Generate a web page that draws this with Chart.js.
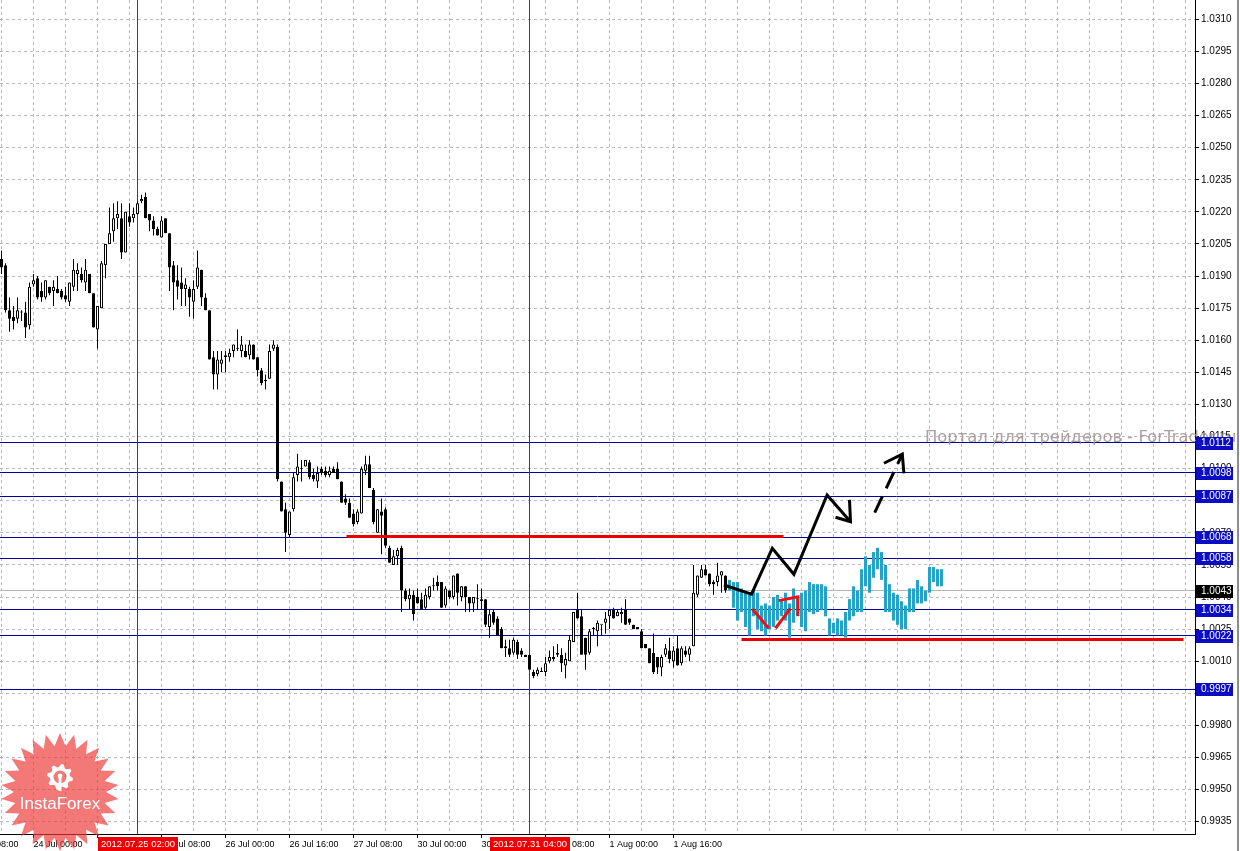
<!DOCTYPE html>
<html>
<head>
<meta charset="utf-8">
<title>EURCHF-like H1</title>
<script src="https://cdn.jsdelivr.net/npm/chart.js@4.4.1/dist/chart.umd.min.js"></script>
<style>
html,body{margin:0;padding:0;background:#fff;overflow:hidden}
#c{display:block}
</style>
</head>
<body>
<canvas id="c" width="1240" height="851"></canvas>
<script>
// H1 candles, bar index 0 = 24 Jul 00:00 (weekend hours skipped)
const firstBar = -8

const opens = [1.0198,1.0195,1.0174,1.0171,1.0170,1.0173,1.0173,1.0167,
 1.0186,1.0189,1.0183,1.0180,1.0185,1.0183,1.0184,1.0183,1.0181,1.0178,
 1.0185,1.0191,1.0191,1.0187,1.0191,1.0182,1.0165,1.0175,1.0195,1.0205,
 1.0211,1.0217,1.0217,1.0201,1.0218,1.0217,1.0219,1.0225,1.0227,1.0219,
 1.0216,1.0212,1.0208,1.0217,1.0210,1.0195,1.0188,1.0187,1.0184,1.0184,
 1.0178,1.0185,1.0193,1.0180,1.0174,1.0152,1.0144,1.0149,1.0152,1.0152,
 1.0155,1.0156,1.0155,1.0155,1.0153,1.0158,1.0152,1.0146,1.0141,1.0142,
 1.0156,1.0157,1.0094,1.0081,1.0069,1.0081,1.0097,1.0100,1.0101,1.0103,
 1.0097,1.0094,1.0100,1.0099,1.0097,1.0100,1.0100,1.0094,1.0086,1.0084,
 1.0079,1.0075,1.0079,1.0099,1.0102,1.0090,1.0070,1.0080,1.0081,1.0063,
 1.0055,1.0059,1.0063,1.0043,1.0039,1.0041,1.0040,1.0039,1.0035,1.0040,
 1.0045,1.0047,1.0047,1.0036,1.0043,1.0040,1.0051,1.0040,1.0045,1.0040,
 1.0037,1.0039,1.0039,1.0039,1.0026,1.0033,1.0030,1.0025,1.0017,1.0016,
 1.0014,1.0019,1.0015,1.0013,1.0013,1.0005,1.0004,1.0005,1.0005,1.0010,
 1.0011,1.0013,1.0013,1.0008,1.0010,1.0019,1.0034,1.0031,1.0021,1.0014,
 1.0025,1.0024,1.0027,1.0028,1.0031,1.0034,1.0031,1.0032,1.0034,1.0030,
 1.0027,1.0026,1.0024,1.0018,1.0016,1.0014,1.0012,1.0007,1.0013,1.0015,
 1.0010,1.0016,1.0009,1.0015,1.0013,1.0017,1.0041,1.0049,1.0053,1.0051,
 1.0047,1.0047,1.0050,1.0050]
const highs = [1.0202,1.0196,1.0180,1.0176,1.0180,1.0174,1.0178,1.0187,
 1.0191,1.0190,1.0187,1.0188,1.0185,1.0188,1.0190,1.0184,1.0185,1.0187,
 1.0198,1.0196,1.0194,1.0198,1.0191,1.0182,1.0176,1.0197,1.0205,1.0222,
 1.0224,1.0225,1.0224,1.0220,1.0224,1.0222,1.0225,1.0228,1.0229,1.0219,
 1.0218,1.0213,1.0218,1.0217,1.0210,1.0197,1.0195,1.0194,1.0189,1.0185,
 1.0188,1.0202,1.0193,1.0182,1.0174,1.0155,1.0155,1.0155,1.0155,1.0156,
 1.0158,1.0165,1.0162,1.0158,1.0160,1.0158,1.0152,1.0147,1.0144,1.0158,
 1.0160,1.0158,1.0094,1.0084,1.0080,1.0098,1.0107,1.0104,1.0104,1.0104,
 1.0100,1.0101,1.0101,1.0101,1.0101,1.0101,1.0103,1.0094,1.0088,1.0086,
 1.0081,1.0081,1.0101,1.0106,1.0106,1.0091,1.0081,1.0086,1.0082,1.0064,
 1.0062,1.0063,1.0064,1.0044,1.0044,1.0043,1.0044,1.0042,1.0044,1.0045,
 1.0049,1.0050,1.0047,1.0045,1.0043,1.0050,1.0051,1.0045,1.0045,1.0040,
 1.0040,1.0046,1.0044,1.0039,1.0034,1.0034,1.0031,1.0026,1.0020,1.0020,
 1.0021,1.0020,1.0016,1.0013,1.0013,1.0006,1.0007,1.0007,1.0012,1.0015,
 1.0017,1.0018,1.0016,1.0014,1.0022,1.0033,1.0042,1.0034,1.0021,1.0025,
 1.0026,1.0029,1.0027,1.0033,1.0034,1.0035,1.0034,1.0035,1.0039,1.0030,
 1.0027,1.0026,1.0025,1.0018,1.0016,1.0023,1.0012,1.0013,1.0018,1.0021,
 1.0017,1.0022,1.0017,1.0017,1.0017,1.0055,1.0050,1.0055,1.0055,1.0051,
 1.0048,1.0056,1.0052,1.0050]
const lows = [1.0191,1.0173,1.0164,1.0165,1.0168,1.0169,1.0161,1.0165,
 1.0185,1.0179,1.0178,1.0179,1.0181,1.0176,1.0182,1.0179,1.0178,1.0176,
 1.0183,1.0183,1.0187,1.0183,1.0182,1.0166,1.0156,1.0175,1.0189,1.0205,
 1.0206,1.0212,1.0198,1.0201,1.0213,1.0215,1.0219,1.0224,1.0217,1.0211,
 1.0209,1.0209,1.0208,1.0210,1.0183,1.0174,1.0179,1.0176,1.0176,1.0171,
 1.0170,1.0184,1.0176,1.0174,1.0151,1.0137,1.0137,1.0145,1.0145,1.0150,
 1.0152,1.0155,1.0152,1.0152,1.0151,1.0151,1.0143,1.0139,1.0137,1.0142,
 1.0155,1.0094,1.0080,1.0061,1.0068,1.0080,1.0094,1.0094,1.0101,1.0095,
 1.0094,1.0091,1.0097,1.0096,1.0096,1.0098,1.0095,1.0084,1.0083,1.0077,
 1.0073,1.0074,1.0079,1.0097,1.0091,1.0074,1.0070,1.0060,1.0063,1.0056,
 1.0055,1.0055,1.0033,1.0038,1.0034,1.0029,1.0037,1.0034,1.0034,1.0039,
 1.0043,1.0043,1.0035,1.0035,1.0039,1.0039,1.0036,1.0038,1.0033,1.0033,
 1.0033,1.0034,1.0034,1.0026,1.0021,1.0027,1.0022,1.0016,1.0012,1.0012,
 1.0013,1.0011,1.0012,1.0012,1.0006,1.0002,1.0003,1.0005,1.0003,1.0009,
 1.0010,1.0012,1.0005,1.0002,1.0010,1.0019,1.0030,1.0013,1.0006,1.0013,
 1.0022,1.0017,1.0022,1.0023,1.0025,1.0030,1.0031,1.0028,1.0027,1.0027,
 1.0025,1.0025,1.0016,1.0016,1.0009,1.0004,1.0004,1.0003,1.0012,1.0009,
 1.0007,1.0008,1.0008,1.0012,1.0010,1.0017,1.0040,1.0049,1.0050,1.0045,
 1.0041,1.0045,1.0042,1.0042]
const closes = [1.0194,1.0174,1.0170,1.0169,1.0174,1.0173,1.0166,1.0185,
 1.0188,1.0180,1.0180,1.0188,1.0182,1.0185,1.0182,1.0180,1.0179,1.0187,
 1.0193,1.0193,1.0188,1.0193,1.0182,1.0166,1.0176,1.0196,1.0205,1.0210,
 1.0217,1.0219,1.0201,1.0220,1.0215,1.0219,1.0224,1.0226,1.0217,1.0216,
 1.0212,1.0209,1.0216,1.0210,1.0194,1.0187,1.0185,1.0184,1.0186,1.0180,
 1.0184,1.0194,1.0180,1.0174,1.0151,1.0144,1.0151,1.0151,1.0153,1.0154,
 1.0158,1.0156,1.0158,1.0152,1.0158,1.0151,1.0146,1.0140,1.0141,1.0155,
 1.0158,1.0095,1.0080,1.0070,1.0080,1.0096,1.0101,1.0100,1.0104,1.0096,
 1.0095,1.0098,1.0098,1.0097,1.0099,1.0098,1.0095,1.0084,1.0084,1.0077,
 1.0074,1.0080,1.0100,1.0102,1.0091,1.0075,1.0081,1.0078,1.0064,1.0056,
 1.0059,1.0062,1.0043,1.0039,1.0041,1.0032,1.0037,1.0034,1.0041,1.0045,
 1.0045,1.0045,1.0035,1.0044,1.0040,1.0050,1.0042,1.0045,1.0040,1.0037,
 1.0040,1.0039,1.0038,1.0027,1.0032,1.0028,1.0022,1.0016,1.0016,1.0013,
 1.0020,1.0013,1.0013,1.0012,1.0006,1.0003,1.0006,1.0005,1.0009,1.0012,
 1.0012,1.0014,1.0009,1.0011,1.0020,1.0033,1.0030,1.0013,1.0013,1.0024,
 1.0025,1.0028,1.0027,1.0030,1.0034,1.0030,1.0033,1.0033,1.0027,1.0028,
 1.0025,1.0025,1.0016,1.0016,1.0009,1.0005,1.0007,1.0012,1.0016,1.0011,
 1.0015,1.0008,1.0016,1.0013,1.0016,1.0042,1.0050,1.0053,1.0050,1.0046,
 1.0046,1.0050,1.0052,1.0043]

// projected bars (cyan), start right after the last candle
const projFirstBar = 174
const projHighs = [1.0048,1.0047,1.0047,1.0044,1.0042,1.0041,1.0043,1.0042,1.0036,1.0037,
 1.0036,1.0040,1.0041,1.0039,1.0042,1.0037,1.0044,1.0040,1.0042,1.0043,
 1.0047,1.0046,1.0046,1.0046,1.0045,1.0030,1.0028,1.0030,1.0029,1.0033,
 1.0039,1.0045,1.0043,1.0053,1.0059,1.0055,1.0061,1.0063,1.0061,1.0055,
 1.0046,1.0042,1.0041,1.0038,1.0036,1.0044,1.0044,1.0048,1.0045,1.0043,
 1.0054,1.0054,1.0053,1.0053]
const projLows = [1.0043,1.0035,1.0029,1.0033,1.0026,1.0022,1.0031,1.0025,1.0024,1.0022,
 1.0025,1.0026,1.0029,1.0031,1.0029,1.0021,1.0028,1.0031,1.0026,1.0024,
 1.0033,1.0032,1.0033,1.0034,1.0031,1.0022,1.0023,1.0022,1.0022,1.0021,
 1.0029,1.0031,1.0033,1.0033,1.0045,1.0042,1.0049,1.0053,1.0048,1.0033,
 1.0033,1.0029,1.0027,1.0025,1.0025,1.0033,1.0033,1.0037,1.0037,1.0038,
 1.0042,1.0047,1.0045,1.0045]

// horizontal levels with their axis labels
const levels = [1.0112, 1.0098, 1.0087, 1.0068, 1.0058, 1.0034, 1.0022, 0.9997]
const bidPrice = 1.0043

// red support / resistance segments: [fromBar, toBar, price]
const redSegments = [[78.25, 187.5, 1.00685], [177, 287.5, 1.0020]]

// vertical period markers and their highlighted time labels
const markerBars = [26, 124]
const markerLabels = ['2012.07.25 02:00', '2012.07.31 04:00']

// hand drawn forecast (bar, price); null breaks the stroke
const blackPathX = [172.6, 179.5, 184.7, 190.1, 198.4, 204.25, null, 200.5, 204.25, 204]
const blackPathY = [1.00456, 1.00413, 1.00628, 1.00506, 1.00877, 1.00752, null, 1.00773, 1.00752, 1.00854]
const dashedX = [210.3, 217.2]
const dashedY = [1.00794, 1.01068]
const dashedHeadX = [212.6, 217.2, 217.6]
const dashedHeadY = [1.01025, 1.01068, 1.00978]
const redArrowX = [179.7, 183.8, null, 185.5, 189.25, null, 186.3, 191.1, 191.1]
const redArrowY = [1.00344, 1.00254, null, 1.00254, 1.00347, null, 1.00383, 1.00401, 1.00311]

// axis ticks
const priceTicks = [1.0310,1.0295,1.0280,1.0265,1.0250,1.0235,1.0220,1.0205,1.0190,1.0175,
 1.0160,1.0145,1.0130,1.0115,1.0100,1.0085,1.0070,1.0055,1.0040,1.0025,1.0010,0.9995,
 0.9980,0.9965,0.9950,0.9935]
const timeTickBars = [-16, 0, 16, 32, 48, 64, 80, 96, 112, 128, 144, 160]
const timeTickLabels = ['23 Jul 08:00','24 Jul 00:00','24 Jul 16:00','25 Jul 08:00','26 Jul 00:00',
 '26 Jul 16:00','27 Jul 08:00','30 Jul 00:00','30 Jul 16:00','31 Jul 08:00','1 Aug 00:00','1 Aug 16:00']

const xMin = -8.375, xMax = 290.375
const yMin = 0.992924, yMax = 1.031902

const bars = opens.map((_, i) => firstBar + i)
const wicks = bars.map((k, i) => ({x: k, y: [lows[i], highs[i]]}))
const bodies = bars.map((k, i) => ({x: k, y: [Math.min(opens[i], closes[i]), Math.max(opens[i], closes[i])]}))
const proj = projHighs.map((h, i) => ({x: projFirstBar + i, y: [projLows[i], h]}))

const pts = (xs, ys) => xs.map((x, i) => ({x: x === null ? xs[i - 1] : x, y: ys[i]}))

const lineDs = (data, color, width, order, extra) => Object.assign({
  type: 'line', data: data, borderColor: color, borderWidth: width, pointRadius: 0,
  tension: 0, fill: false, spanGaps: false, order: order
}, extra || {})

const datasets = []
levels.forEach(l => datasets.push(lineDs([{x: xMin, y: l}, {x: xMax, y: l}], '#00009c', 1, 20, {snap: true})))
datasets.push(lineDs([{x: xMin, y: bidPrice}, {x: xMax, y: bidPrice}], '#b4b4b4', 1, 21, {snap: true}))
markerBars.forEach(b => datasets.push(lineDs([{x: b, y: yMin}, {x: b, y: yMax}], '#dc0000', 1, 19)))
datasets.push({type: 'bar', data: wicks, backgroundColor: '#000', barThickness: 1, grouped: false, inflateAmount: 0, order: 12})
datasets.push({type: 'bar', data: bodies, grouped: false, inflateAmount: 0, order: 11,
  barThickness: 3, minBarLength: 1, borderWidth: 1, borderColor: '#000', borderSkipped: false,
  backgroundColor: c => closes[c.dataIndex] > opens[c.dataIndex] ? '#fff' : '#000'})
datasets.push({type: 'bar', data: proj, backgroundColor: '#26a2c8', barThickness: 3, grouped: false, inflateAmount: 0, order: 10})
redSegments.forEach(s => datasets.push(lineDs([{x: s[0], y: s[2]}, {x: s[1], y: s[2]}], '#e60000', 3, 6, {snap: true})))
datasets.push(lineDs(pts(redArrowX, redArrowY), '#f01010', 3, 5))
datasets.push(lineDs(pts(blackPathX, blackPathY), '#000', 3, 4))
datasets.push(lineDs(pts(dashedX, dashedY), '#000', 3, 4, {borderDash: [18, 9]}))
datasets.push(lineDs(pts(dashedHeadX, dashedHeadY), '#000', 3, 4))

// keep the flat lines on whole pixels so they stay sharp like the terminal
const snapLines = {
  id: 'snapLines',
  beforeDatasetsDraw(chart) {
    chart.data.datasets.forEach((ds, i) => {
      if (!ds.snap) return
      chart.getDatasetMeta(i).data.forEach(p => { p.y = Math.round(p.y - 0.5) + 0.5 })
    })
  }
}

const overlay = {
  id: 'overlay',
  afterDraw(chart) {
    const ctx = chart.ctx
    const x = chart.scales.x, y = chart.scales.y
    ctx.save()
    // watermark
    ctx.font = '16px "DejaVu Sans"'
    const w = ctx.measureText('Портал для трейдеров - ForTrader.ru').width
    ctx.font = (16 * 312 / w).toFixed(1) + 'px "DejaVu Sans"'
    ctx.fillStyle = 'rgba(160,145,145,0.85)'
    ctx.textBaseline = 'alphabetic'
    ctx.textAlign = 'left'
    ctx.fillText('Портал для трейдеров - ForTrader.ru', 925, 442)
    // price labels
    ctx.font = '10px "Liberation Sans"'
    ctx.textBaseline = 'middle'
    const box = (p, bg) => {
      const py = Math.round(y.getPixelForValue(p))
      ctx.fillStyle = bg
      ctx.fillRect(1196, py - 6, 37, 13)
      ctx.fillStyle = '#fff'
      ctx.fillText(p.toFixed(4), 1201, py + 0.5)
    }
    levels.forEach(l => box(l, '#0c0cc4'))
    box(bidPrice, '#000')
    // time labels of the markers
    ctx.textAlign = 'center'
    ctx.font = '9.5px "Liberation Sans"'
    markerBars.forEach((b, i) => {
      const px = Math.round(x.getPixelForValue(b))
      ctx.fillStyle = '#f00000'
      ctx.fillRect(px - 40, 837, 80, 14)
      ctx.fillStyle = '#fff'
      ctx.fillText(markerLabels[i], px, 844)
    })
    // window edge
    ctx.fillStyle = '#8c8c8c'
    ctx.fillRect(1237, 0, 2, 851)
    // logo
    const cx = 60, cy = 792, n = 26
    ctx.beginPath()
    for (let i = 0; i < n * 2; i++) {
      const r = i % 2 ? 46 : 59
      const a = -Math.PI / 2 + i * Math.PI / n
      ctx.lineTo(cx + r * Math.cos(a), cy + r * Math.sin(a))
    }
    ctx.closePath()
    ctx.fillStyle = 'rgba(238,56,56,0.68)'
    ctx.fill()
    ctx.fillStyle = '#fff'
    const gy = 777
    ctx.beginPath()
    for (let i = 0; i < 32; i++) {
      const r = (Math.floor(i / 2) % 2) ? 10 : 13
      const a = i * Math.PI / 16 + Math.PI / 32
      ctx.lineTo(cx + r * Math.cos(a), gy + r * Math.sin(a))
    }
    ctx.closePath()
    ctx.moveTo(cx + 6.5, gy)
    ctx.arc(cx, gy, 6.5, 0, Math.PI * 2, true)
    ctx.fill('evenodd')
    ctx.beginPath()
    ctx.arc(cx, gy - 1, 2.4, 0, Math.PI * 2)
    ctx.fill()
    ctx.fillRect(cx - 1.5, gy + 1, 3, 13)
    ctx.font = '17px "Liberation Sans"'
    ctx.textBaseline = 'alphabetic'
    ctx.fillText('InstaForex', cx, 809)
    ctx.restore()
  }
}

new Chart(document.getElementById('c'), {
  type: 'bar',
  data: {datasets: datasets},
  options: {
    responsive: false,
    devicePixelRatio: 1,
    animation: false,
    events: [],
    layout: {padding: 0},
    plugins: {legend: {display: false}, tooltip: {enabled: false}},
    scales: {
      x: {
        type: 'linear', min: xMin, max: xMax, offset: false,
        grid: {
          offset: false, color: 'rgba(178,174,184,0.9)', tickLength: 4,
          tickColor: c => c.tick && timeTickBars.includes(c.tick.value) ? '#000' : 'rgba(0,0,0,0)'
        },
        border: {color: '#000', dash: [3, 3]},
        afterBuildTicks: s => {
          const t = []
          for (let b = -16; b <= 288; b += 8) t.push({value: b})
          s.ticks = t
        },
        ticks: {
          autoSkip: false, maxRotation: 0, minRotation: 0, align: 'start', padding: 1,
          color: '#000', font: {family: 'Liberation Sans', size: 9},
          callback: v => {
            const i = timeTickBars.indexOf(v)
            return i < 0 ? '' : timeTickLabels[i]
          }
        },
        afterFit: s => { s.height = 17; s.paddingLeft = 0; s.paddingRight = 0 }
      },
      y: {
        type: 'linear', position: 'right', min: yMin, max: yMax, beginAtZero: false,
        grid: {color: 'rgba(178,174,184,0.9)', tickLength: 4, tickColor: '#000'},
        border: {color: '#000', dash: [3, 3]},
        afterBuildTicks: s => { s.ticks = priceTicks.map(v => ({value: v})) },
        ticks: {
          padding: 2, color: '#000', font: {family: 'Liberation Sans', size: 10},
          callback: v => v.toFixed(4)
        },
        afterFit: s => { s.width = 45; s.paddingTop = 0; s.paddingBottom = 0 }
      }
    }
  },
  plugins: [snapLines, overlay]
})
</script>
</body>
</html>
